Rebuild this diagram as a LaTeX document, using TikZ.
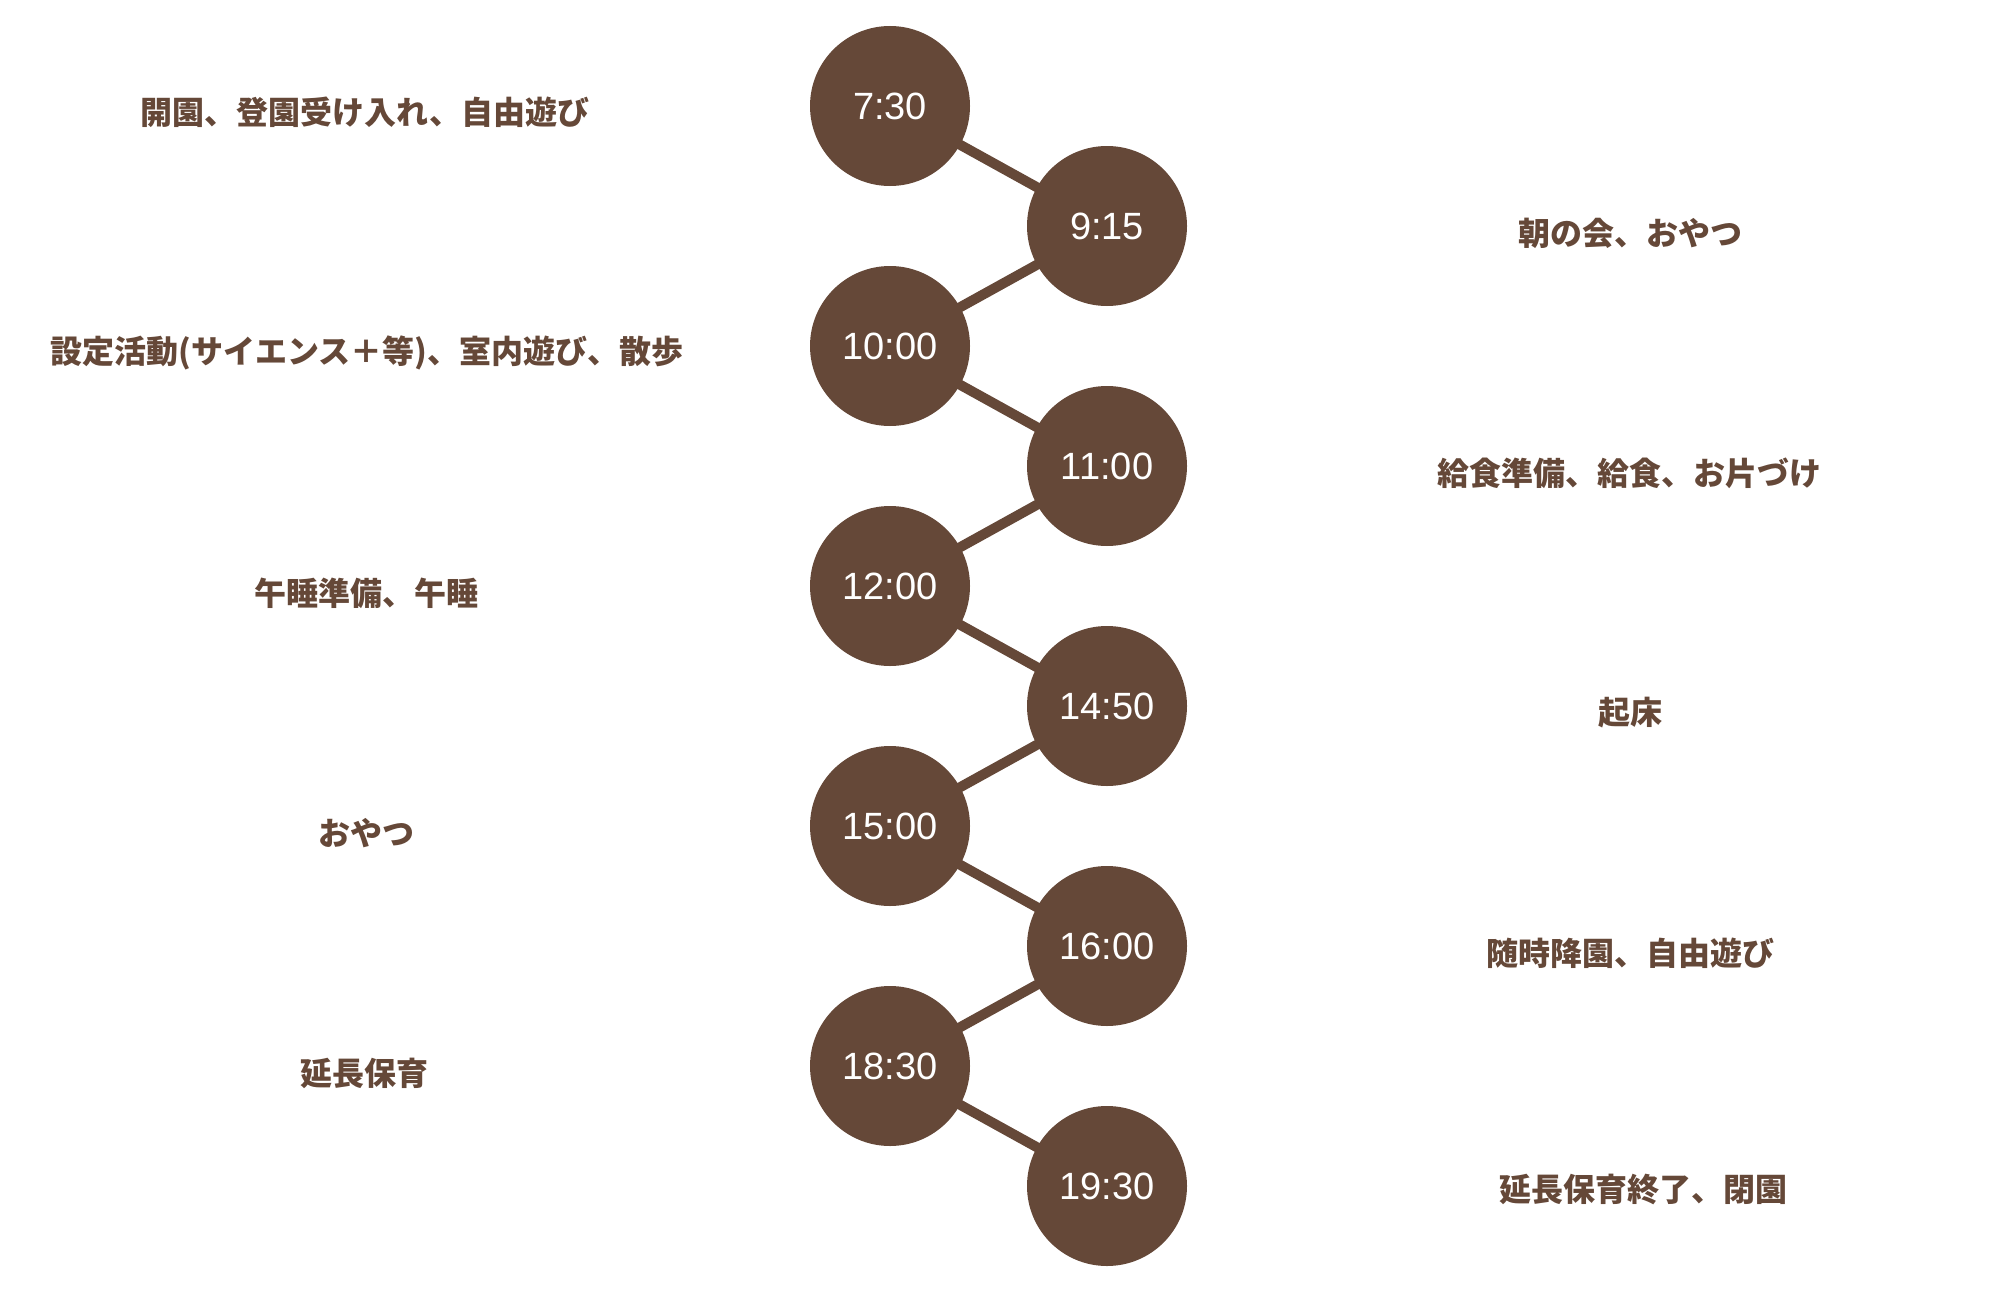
\documentclass[tikz,border=0pt]{standalone}
\usepackage{fontspec}
\setmainfont{Liberation Sans}
\newfontfamily\jpfont{Noto Sans CJK JP}
\usetikzlibrary{backgrounds}
\definecolor{brownc}{RGB}{101,72,56}
\tikzset{
  timedot/.style={circle, fill=brownc, draw=none, minimum size=160pt, inner sep=0pt,
    text=white, font=\fontsize{38}{45}\selectfont},
  lab/.style={text=brownc, inner sep=0pt, font=\jpfont\bfseries\fontsize{32}{38}\selectfont},
  link/.style={draw=brownc, line width=10pt}
}
\begin{document}
\begin{tikzpicture}[x=1pt,y=-1pt]
\useasboundingbox (0,0) rectangle (2000,1298);
\node[timedot] (t1)  at (890,106)  {7:30};
\node[timedot] (t2)  at (1107,226) {9:15};
\node[timedot] (t3)  at (890,346)  {10:00};
\node[timedot] (t4)  at (1107,466) {11:00};
\node[timedot] (t5)  at (890,586)  {12:00};
\node[timedot] (t6)  at (1107,706) {14:50};
\node[timedot] (t7)  at (890,826)  {15:00};
\node[timedot] (t8)  at (1107,946) {16:00};
\node[timedot] (t9)  at (890,1066) {18:30};
\node[timedot] (t10) at (1107,1186) {19:30};
\begin{scope}[on background layer]
\draw[link] (t1.center) -- (t2.center) -- (t3.center) -- (t4.center) -- (t5.center)
  -- (t6.center) -- (t7.center) -- (t8.center) -- (t9.center) -- (t10.center);
\end{scope}
\node[lab] (l1)  at (365,112)  {開園、登園受け入れ、自由遊び};
\node[lab] (l2)  at (1630,233) {朝の会、おやつ};
\node[lab] (l3)  at (367,353)  {設定活動(サイエンス＋等)、室内遊び、散歩};
\node[lab] (l4)  at (1629,473) {給食準備、給食、お片づけ};
\node[lab] (l5)  at (366,593)  {午睡準備、午睡};
\node[lab] (l6)  at (1630,713) {起床};
\node[lab] (l7)  at (366,833)  {おやつ};
\node[lab] (l8)  at (1630,953) {随時降園、自由遊び};
\node[lab] (l9)  at (364,1073) {延長保育};
\node[lab] (l10) at (1643,1189) {延長保育終了、閉園};
\end{tikzpicture}
\end{document}
